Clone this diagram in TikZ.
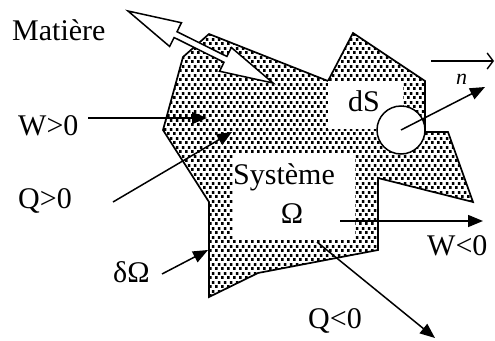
\documentclass[tikz,border=0pt]{standalone}
\usepackage{fontspec}
\setmainfont{Liberation Serif}
\usetikzlibrary{arrows.meta,patterns,shapes.arrows}
\pgfdeclarepatternformonly{stipple}{\pgfqpoint{0pt}{0pt}}{\pgfqpoint{6.2pt}{8.6pt}}{\pgfqpoint{6.2pt}{8.6pt}}{%
  \pgfpathrectangle{\pgfqpoint{0pt}{0pt}}{\pgfqpoint{3pt}{3pt}}%
  \pgfpathrectangle{\pgfqpoint{3.1pt}{4.3pt}}{\pgfqpoint{3pt}{3pt}}%
  \pgfusepath{fill}}
\tikzset{
  region/.style={draw, line width=1.7pt, pattern=stipple, line join=miter},
  hole/.style={fill=white, inner sep=0pt, outer sep=0pt},
  flux/.style={line width=1.5pt, -{Triangle[length=15pt,width=12pt]}},
  vecarrow/.style={line width=1.4pt, -{Straight Barb[length=6pt,width=16pt]}},
  label/.style={font=\fontsize{30}{32}\selectfont, inner sep=0pt},
  matter/.style={double arrow, draw, fill=white, line width=1.5pt, inner sep=2.5pt,
    minimum height=162pt, double arrow head extend=10pt, double arrow tip angle=28},
}

\begin{document}
\begin{tikzpicture}[x=1pt,y=-1pt]
\useasboundingbox (0,0) rectangle (495,340);
% system region
\path[region] (209,34) -- (328,81) -- (353,33) -- (425,81) -- (425,132) -- (448,132)
  -- (473,202) -- (378,178) -- (378,250) -- (258,273) -- (209,297) -- (209,202)
  -- (163,130) -- (183,57) -- cycle;
\node[hole, minimum width=122pt, minimum height=86pt] (sysbox) at (294,196) {};
\node[hole, minimum width=75pt, minimum height=48pt] (dsbox) at (365.5,105) {};
\node[draw, circle, fill=white, line width=1.5pt, minimum size=48pt, inner sep=0pt] (dS) at (401,130) {};

% matter exchange
\node[matter, rotate=-26.4] (matiere) at (200.5,47) {};

% labels
\node[label, anchor=base west] (lmat) at (12,40) {Matière};
\node[label, anchor=base west] (lwin) at (18,135) {W>0};
\node[label, anchor=base west] (lqin) at (18,208) {Q>0};
\node[label, anchor=base west] (lbord) at (113,282) {δΩ};
\node[label, anchor=base west] (lsys) at (233,184) {Système};
\node[label, anchor=base] (lomega) at (292,223) {Ω};
\node[label, anchor=base west] (lds) at (348,111) {dS};
\node[label, anchor=base west, font=\itshape\fontsize{22}{24}\selectfont] (ln) at (456,84) {n};
\node[label, anchor=base west] (lwout) at (427,255) {W<0};
\node[label, anchor=base west] (lqout) at (308,328) {Q<0};

% arrow ends
\coordinate (win-s) at (88,118);   \coordinate (win-e) at (207,118);
\coordinate (qin-s) at (113,202);  \coordinate (qin-e) at (232,132);
\coordinate (bord-s) at (162,274); \coordinate (bord-e) at (208,250);
\coordinate (wout-s) at (340,221); \coordinate (wout-e) at (483,221);
\coordinate (qout-s) at (317,242); \coordinate (qout-e) at (435,338);
\coordinate (n-e) at (485,87);
\coordinate (vec-s) at (431,61);   \coordinate (vec-e) at (494,61);

\draw[flux] (win-s) -- (win-e);
\draw[flux] (qin-s) -- (qin-e);
\draw[flux] (bord-s) -- (bord-e);
\draw[flux] (wout-s) -- (wout-e);
\draw[flux] (qout-s) -- (qout-e);
\draw[flux] (dS.center) -- (n-e);
\draw[vecarrow] (vec-s) -- (vec-e);
\end{tikzpicture}
\end{document}
